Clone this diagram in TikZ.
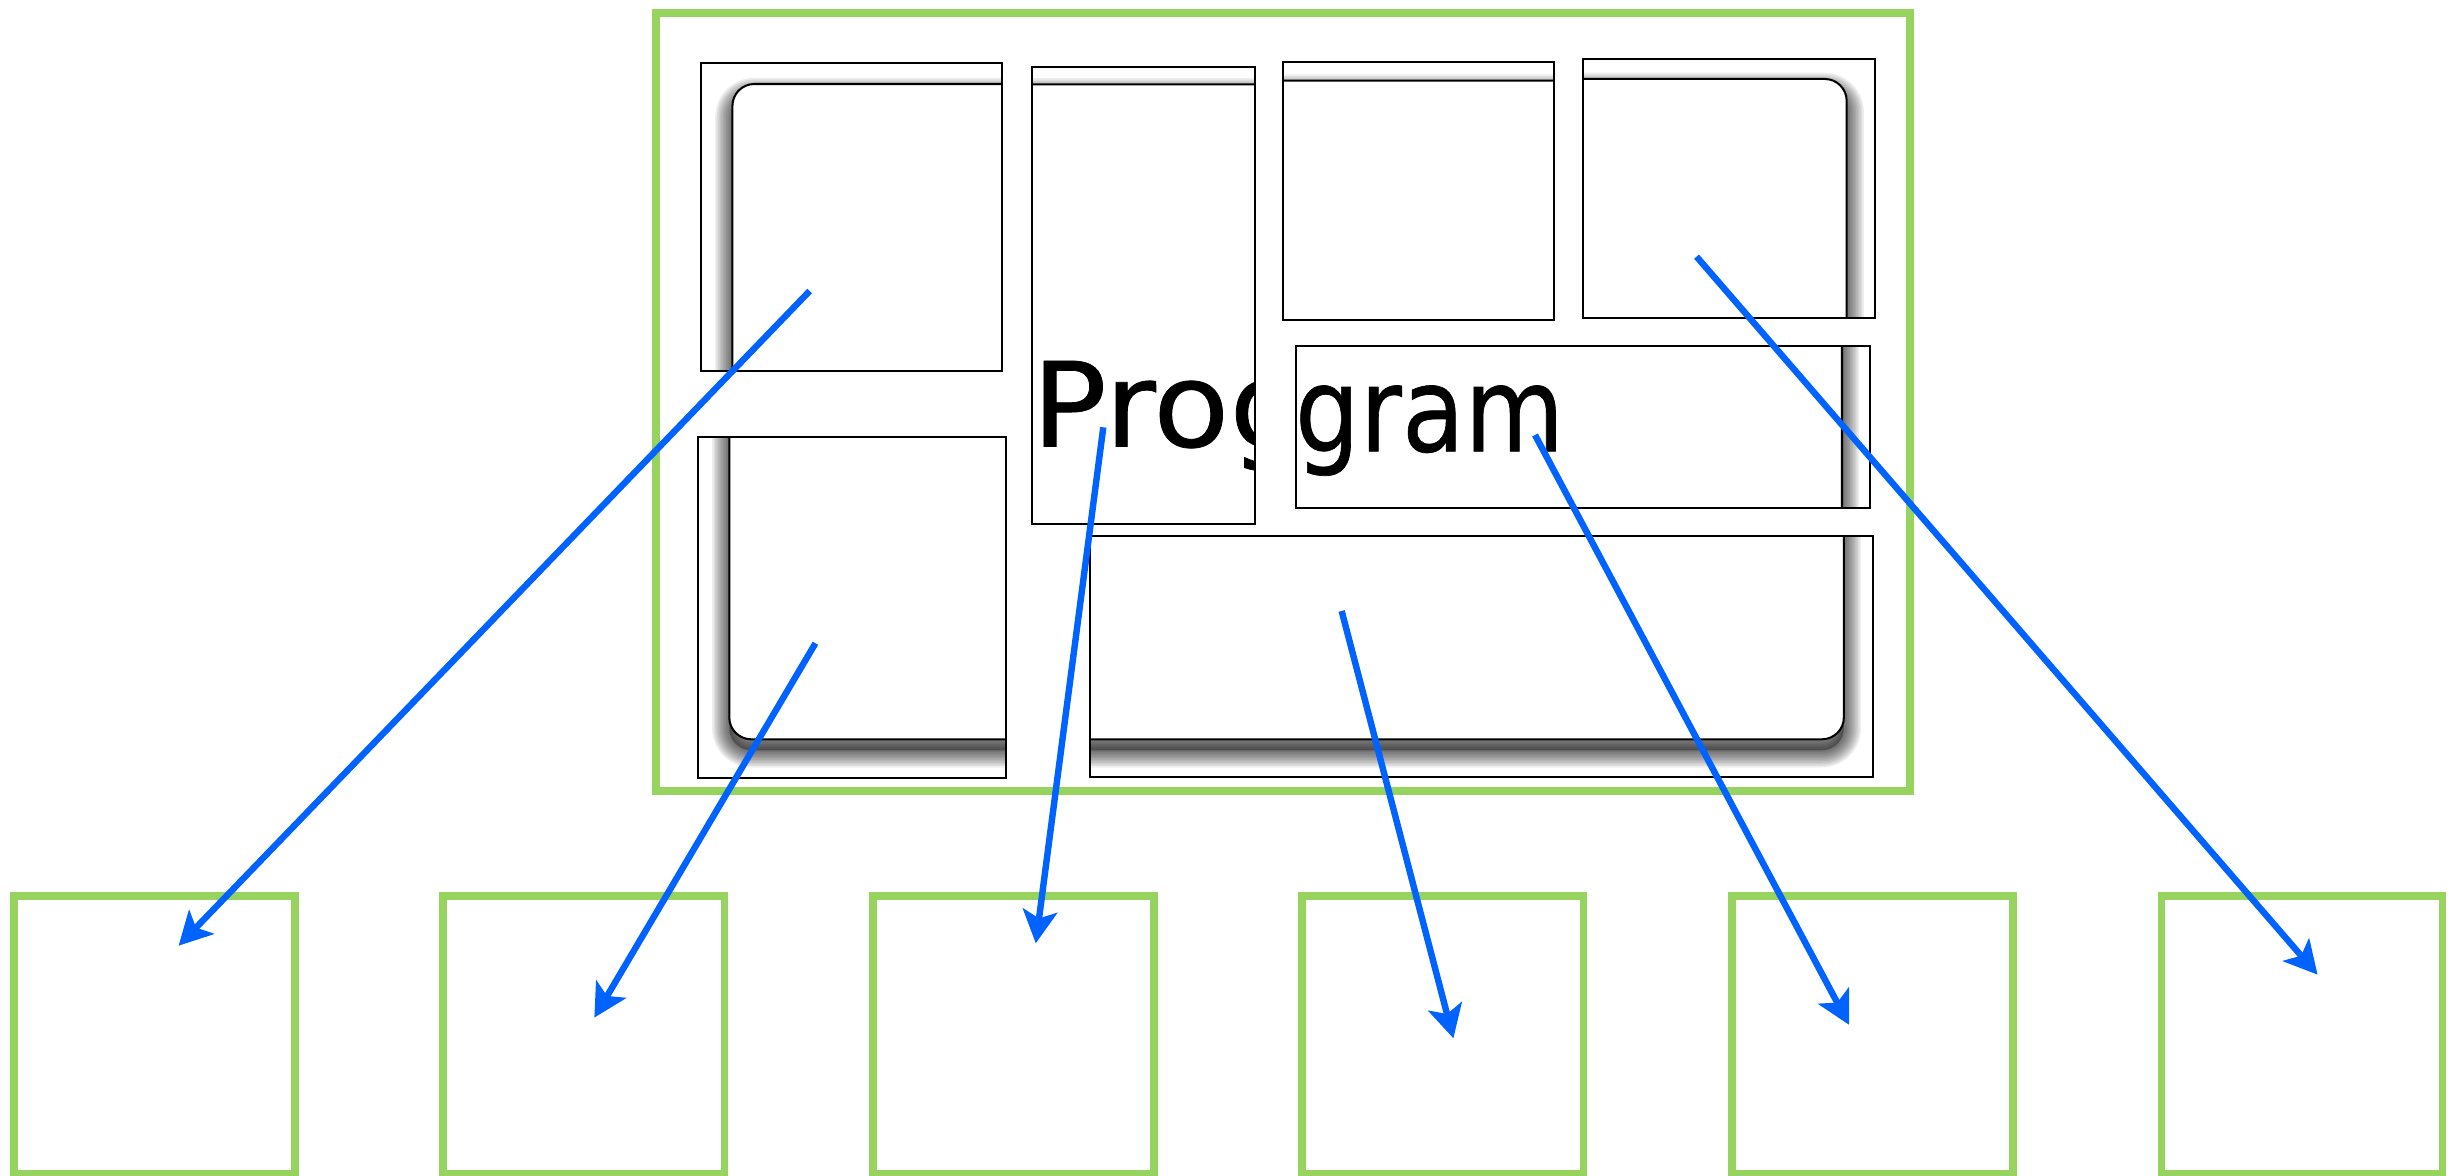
\documentclass[tikz,border=0pt]{standalone}
\usepackage{fontspec}
\usepackage{graphicx}
\setmainfont{DejaVu Sans}
\newfontfamily\titlefont[FakeBold=0.6]{DejaVu Sans}
\usetikzlibrary{arrows.meta}

\definecolor{framegreen}{RGB}{150,211,95}
\definecolor{linkblue}{RGB}{0,98,255}

\tikzset{
  greenframe/.style={draw=framegreen, line width=2.45pt},
  panelline/.style={draw=black, line width=0.65pt},
  link/.style={draw=linkblue, line width=2.05pt,
    -{Stealth[length=10.5pt,width=11pt,inset=2.5pt]}},
  word/.style={inner sep=0pt, anchor=base west,
    font=\titlefont\fontsize{37.5}{40}\selectfont},
}

% A window panel: outer frame #1..#4, inner sheet #5..#8 (rounded, with a soft
% drop shadow), everything of the sheet clipped to the frame.
\newcommand\windowpanel[8]{%
  \begin{scope}
    \clip (#1,#2) rectangle (#3,#4);
    \begin{scope}[yshift=-3.5pt]
      \fill[black, opacity=0.3, rounded corners=7pt] (#5,#6) rectangle (#7,#8);
      \foreach \k in {1,...,11}
        \draw[black, opacity=0.065, line width=\k pt, line join=round,
              rounded corners=7pt] (#5,#6) rectangle (#7,#8);
    \end{scope}
    \filldraw[fill=white, panelline, rounded corners=7pt] (#5,#6) rectangle (#7,#8);
  \end{scope}
  \draw[panelline] (#1,#2) rectangle (#3,#4);
}

\begin{document}
\begin{tikzpicture}[x=0.5pt, y=-0.5pt]
  \fill[white] (0,0) rectangle (1568,750);
  \useasboundingbox (0,0) rectangle (1568,750);

  % program frame
  \draw[greenframe] (418.7,8.5) rectangle (1219,504.8);

  % output boxes
  \foreach \i in {0,...,5}
    \draw[greenframe] (8.8+274.1*\i,571.8) rectangle (188.3+274.1*\i,749);

  % panels
  \windowpanel{447.5}{40.4}{639.7}{236.5}{467.4}{53.6}{690}{280}
  \windowpanel{658.6}{42.5}{800.7}{334.6}{610}{53.8}{850}{380}
  \windowpanel{818.7}{39.4}{991.7}{204.2}{770}{51.5}{1040}{250}
  \windowpanel{1010.4}{37.7}{1196.6}{203.1}{960}{50.4}{1178.5}{250}
  \windowpanel{826.8}{220.8}{1193.2}{324.4}{780}{170}{1175.5}{375}
  \windowpanel{445.4}{279}{642}{496.7}{465.4}{230}{690}{471.8}
  \windowpanel{695.6}{342}{1195}{496}{645}{290}{1176.7}{471.8}

  % title, shown through two panels
  \begin{scope}
    \clip (658.6,42.5) rectangle (800.7,334.6);
    \node[word] (wordleft) at (658,285) {\scalebox{1.06}[1]{Prog}};
  \end{scope}
  \begin{scope}
    \clip (826.8,220.8) rectangle (1193.2,324.4);
    \node[word] (wordright) at (826,288) {\scalebox{0.87}[1]{gram}};
  \end{scope}

  % connector ends
  \coordinate (s1) at (516.7,185.7);  \coordinate (t1) at (114,603.5);
  \coordinate (s2) at (520.4,410.5);  \coordinate (t2) at (379.3,649.4);
  \coordinate (s3) at (704.1,272.7);  \coordinate (t3) at (661,602);
  \coordinate (s4) at (856.2,389.9);  \coordinate (t4) at (927.5,662.6);
  \coordinate (s5) at (979.6,277.6);  \coordinate (t5) at (1180,654);
  \coordinate (s6) at (1082.7,163.8); \coordinate (t6) at (1479,622);

  \foreach \n in {1,...,6}
    \draw[link] (s\n) -- (t\n);
\end{tikzpicture}
\end{document}
